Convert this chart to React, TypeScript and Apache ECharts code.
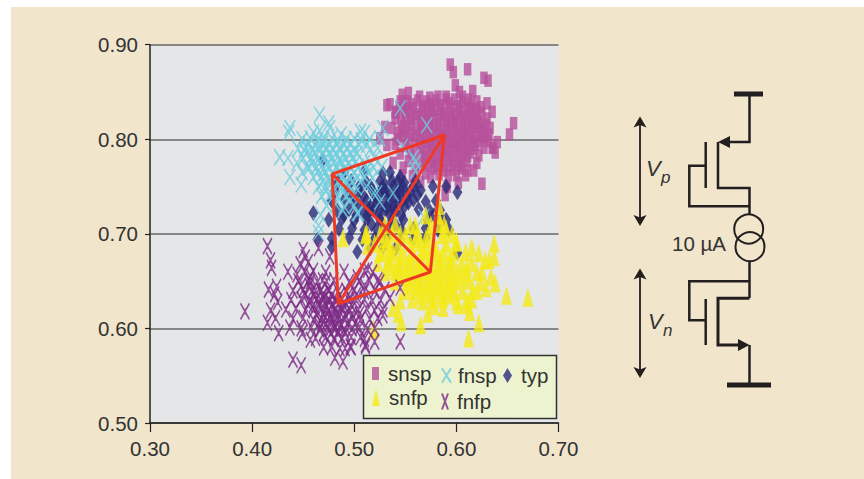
import React, { useEffect, useRef } from "react";
import * as echarts from "echarts";

const xTicks = { min: 0.3, max: 0.7, interval: 0.1 };
const yTicks = { min: 0.5, max: 0.9, interval: 0.1 };

const snsp: number[][] = [
[.594,.879],[.597,.871],[.611,.874],[.627,.865],[.631,.862],[.616,.851],[.599,.857],[.603,.85],[.635,.829],[.535,.837],[.547,.847],[.553,.849],[.564,.845],[.574,.844],[.582,.845],[.59,.845],[.656,.817],[.652,.805],[.636,.791],
[.625,.753],[.617,.767],[.609,.762],[.602,.754],[.591,.75],[.589,.741],[.575,.76],[.565,.755],[.547,.762],[.532,.836],[.54,.829],[.53,.813],[.525,.801],[.543,.807],[.532,.794],[.633,.812],[.635,.791],[.627,.791],[.622,.783],[.625,.828],[.617,.828],[.538,.725],[.537,.812],[.54,.795],[.545,.785],[.538,.775],
[.548,.836],[.556,.837],[.567,.835],[.575,.837],[.584,.836],[.593,.838],[.601,.835],
[.541,.828],[.553,.829],[.562,.827],[.572,.828],[.579,.83],[.588,.828],[.596,.827],[.604,.829],[.612,.828],
[.546,.82],[.556,.821],[.566,.819],[.574,.82],[.583,.821],[.59,.82],[.599,.819],[.607,.821],[.615,.82],[.622,.819],
[.551,.812],[.562,.811],[.57,.813],[.578,.812],[.586,.811],[.594,.813],[.602,.812],[.61,.811],[.618,.813],[.626,.81],
[.549,.803],[.559,.804],[.568,.802],[.576,.803],[.585,.804],[.592,.802],[.6,.803],[.608,.804],[.616,.802],[.624,.803],
[.56,.795],[.571,.796],[.579,.794],[.587,.795],[.595,.796],[.603,.794],[.611,.795],[.619,.794],
[.565,.786],[.574,.787],[.582,.785],[.59,.786],[.598,.787],[.606,.785],[.614,.786],
[.553,.777],[.569,.778],[.577,.776],[.585,.777],[.593,.778],[.601,.776],[.61,.777],
[.56,.768],[.578,.769],[.588,.767],[.596,.768],[.604,.769],[.611,.767],
[.552,.84],[.562,.841],[.571,.84],[.58,.841],[.59,.842],[.598,.842],[.606,.84],[.614,.838],
[.544,.833],[.558,.833],[.567,.832],[.576,.833],[.585,.832],[.594,.833],[.603,.832],[.611,.833],[.619,.832],
[.55,.825],[.56,.824],[.569,.825],[.578,.824],[.587,.825],[.595,.824],[.603,.825],[.611,.824],[.62,.825],
[.555,.816],[.565,.816],[.574,.816],[.582,.816],[.591,.816],[.599,.816],[.607,.816],[.615,.816],[.623,.815],
[.546,.808],[.556,.807],[.566,.808],[.574,.808],[.582,.807],[.59,.808],[.598,.808],[.606,.807],[.614,.808],[.622,.807],
[.553,.799],[.564,.799],[.574,.799],[.583,.799],[.591,.799],[.599,.799],[.607,.799],[.615,.799],[.623,.798],
[.567,.79],[.576,.791],[.585,.79],[.593,.791],[.601,.79],[.609,.79],[.617,.79],
[.57,.782],[.579,.781],[.587,.782],[.595,.782],[.603,.781],[.611,.782],[.558,.782],
[.565,.773],[.573,.772],[.581,.772],[.589,.772],[.597,.773],[.605,.772],
[.57,.764],[.583,.763],[.592,.762],[.6,.762],
[.63,.822],[.632,.805],[.629,.815],[.631,.798],[.628,.803],[.64,.797],[.638,.786],[.62,.775],
[.545,.84],[.55,.832],[.54,.822],[.548,.814],[.542,.8],[.55,.793],[.555,.787],[.548,.77],[.557,.761],
[.606,.845],[.612,.842],[.62,.84],[.63,.838],[.624,.834],
];

const typ: number[][] = [
[.469,.778],[.46,.722],[.464,.694],[.478,.686],[.503,.681],[.593,.704],[.584,.711],[.601,.68],[.601,.744],[.577,.75],[.59,.75],
[.49,.765],[.51,.766],[.528,.764],
[.484,.755],[.497,.756],[.512,.754],[.525,.755],[.537,.756],[.549,.754],[.56,.755],
[.481,.745],[.494,.746],[.505,.744],[.518,.745],[.53,.746],[.542,.744],[.555,.745],[.565,.746],
[.478,.735],[.49,.736],[.5,.734],[.512,.735],[.523,.736],[.535,.734],[.547,.735],[.558,.736],[.57,.734],[.58,.735],
[.483,.725],[.495,.726],[.508,.724],[.519,.725],[.53,.726],[.54,.724],[.563,.726],[.574,.724],[.584,.725],
[.475,.715],[.488,.716],[.5,.714],[.512,.715],[.525,.716],[.537,.714],[.548,.715],[.572,.714],[.586,.716],
[.485,.705],[.498,.706],[.51,.704],[.522,.705],[.534,.706],[.546,.704],[.558,.705],[.57,.706],[.582,.704],
[.478,.695],[.495,.696],[.508,.694],[.52,.695],[.532,.696],[.545,.694],[.558,.695],[.57,.696],
[.516,.685],[.528,.686],[.54,.684],
[.505,.75],[.516,.75],[.527,.749],[.538,.75],[.548,.749],[.558,.75],
[.498,.74],[.509,.74],[.52,.741],[.531,.74],[.541,.74],[.552,.74],[.562,.741],
[.505,.73],[.516,.729],[.527,.73],[.538,.73],[.549,.729],
[.49,.72],[.502,.72],[.513,.72],[.524,.72],[.535,.72],[.546,.72],[.578,.72],
[.517,.71],[.528,.71],[.54,.71],[.59,.715],
[.525,.742],[.535,.742],[.545,.745],[.522,.733],[.532,.727],[.543,.733],[.553,.733],[.53,.752],[.543,.755],[.515,.725],[.545,.76],[.535,.765],
];

const fnsp: number[][] = [
[.466,.826],[.475,.817],[.476,.812],[.436,.807],[.437,.812],[.46,.807],[.466,.809],[.487,.805],[.506,.808],[.51,.807],[.528,.812],[.427,.781],[.435,.78],[.437,.76],[.448,.752],[.454,.77],[.451,.789],
[.465,.709],[.465,.701],[.489,.725],[.504,.722],[.568,.718],[.522,.743],[.538,.743],[.525,.734],[.56,.776],[.503,.722],[.467,.72],[.545,.833],[.571,.815],[.525,.801],[.547,.792],[.558,.781],[.56,.767],[.519,.743],
[.449,.8],[.457,.801],[.464,.799],[.47,.8],[.478,.801],[.484,.799],[.492,.8],[.5,.801],[.507,.799],[.515,.8],
[.445,.79],[.453,.791],[.46,.789],[.467,.79],[.473,.791],[.48,.789],[.487,.79],[.493,.791],[.5,.789],[.516,.79],[.523,.791],
[.45,.78],[.458,.781],[.465,.779],[.472,.78],[.479,.781],[.486,.779],[.492,.78],[.499,.781],[.52,.78],
[.456,.77],[.463,.771],[.47,.769],[.476,.77],[.483,.771],[.49,.769],[.497,.77],[.504,.771],[.512,.769],[.519,.77],[.527,.771],
[.46,.76],[.468,.761],[.475,.759],[.482,.76],[.489,.761],[.496,.759],[.503,.76],[.51,.761],[.518,.759],
[.465,.75],[.472,.751],[.48,.749],[.488,.75],[.495,.751],[.502,.749],[.512,.75],
[.468,.74],[.476,.741],[.484,.739],[.492,.74],[.5,.741],
[.473,.73],[.482,.731],[.49,.729],[.5,.73],
[.455,.795],[.462,.794],[.469,.795],[.476,.794],[.483,.795],[.49,.794],[.497,.795],[.505,.794],[.512,.794],
[.453,.785],[.461,.785],[.468,.784],[.475,.785],[.482,.785],[.489,.784],[.496,.785],[.503,.785],[.51,.775],
[.459,.775],[.466,.775],[.473,.774],[.48,.775],[.487,.775],[.494,.774],[.501,.775],[.516,.775],
[.464,.765],[.471,.765],[.478,.764],[.485,.765],[.492,.765],[.5,.764],[.507,.765],[.514,.765],
[.469,.755],[.476,.755],[.484,.755],[.491,.754],[.498,.755],[.506,.755],
[.472,.745],[.48,.745],[.488,.745],[.496,.744],[.444,.775],[.449,.765],
];

const snfp: number[][] = [
[.67,.633],[.649,.635],[.637,.69],[.637,.676],[.629,.643],[.638,.648],[.628,.672],[.632,.673],[.622,.68],[.615,.686],[.609,.681],[.6,.692],[.62,.66],[.612,.59],[.622,.606],[.613,.618],[.565,.604],[.572,.616],[.546,.607],[.543,.616],[.538,.622],[.587,.622],[.578,.624],[.602,.625],[.611,.625],[.519,.599],[.584,.711],[.512,.701],[.513,.688],[.489,.696],[.511,.699],
[.582,.72],
[.53,.71],[.54,.711],[.56,.709],[.575,.71],[.588,.711],
[.525,.7],[.537,.701],[.55,.699],[.562,.7],[.574,.701],[.586,.699],
[.52,.69],[.532,.691],[.543,.689],[.555,.69],[.565,.691],[.577,.689],[.59,.69],[.6,.691],
[.528,.68],[.538,.681],[.548,.679],[.558,.68],[.568,.681],[.578,.679],[.588,.68],[.598,.681],
[.523,.67],[.533,.671],[.543,.669],[.553,.67],[.563,.671],[.573,.669],[.583,.67],[.593,.671],[.605,.669],[.615,.67],
[.53,.66],[.54,.661],[.55,.659],[.56,.66],[.57,.661],[.58,.659],[.59,.66],[.6,.661],[.61,.659],
[.54,.65],[.552,.651],[.562,.649],[.572,.65],[.582,.651],[.592,.649],[.6,.65],[.612,.651],[.624,.649],
[.55,.64],[.56,.641],[.57,.639],[.58,.64],[.59,.641],[.598,.639],[.606,.64],[.616,.641],
[.545,.63],[.557,.631],[.567,.629],[.577,.63],[.587,.631],[.6,.629],[.61,.63],[.615,.631],
[.535,.675],[.545,.675],[.555,.675],[.565,.675],[.575,.675],[.585,.675],[.595,.675],
[.535,.665],[.545,.665],[.555,.665],[.565,.665],[.575,.665],[.585,.665],[.595,.665],
[.545,.655],[.556,.655],[.566,.655],[.576,.655],[.586,.655],[.596,.655],
[.555,.645],[.565,.645],[.575,.645],[.585,.645],[.595,.645],
[.565,.635],[.575,.635],[.585,.635],[.593,.635],
[.57,.685],[.58,.685],[.56,.695],[.57,.695],
[.583,.73],[.57,.72],[.59,.705],[.596,.7],[.61,.665],[.625,.66],[.634,.655],[.605,.655],[.62,.64],[.53,.695],[.545,.7],[.555,.71],[.535,.685],[.525,.68],
];

const fnfp: number[][] = [
[.393,.618],[.415,.687],[.418,.672],[.419,.664],[.45,.683],[.465,.685],[.435,.66],[.416,.641],[.424,.644],[.422,.636],[.425,.628],[.418,.619],[.415,.606],[.423,.611],[.426,.595],[.44,.567],[.448,.561],[.489,.565],[.481,.569],[.545,.586],[.52,.586],[.511,.583],[.496,.581],[.491,.579],[.545,.643],[.535,.632],[.528,.614],[.457,.588],[.437,.601],[.449,.595],[.506,.591],[.476,.676],[.455,.67],[.469,.651],[.444,.657],[.503,.654],[.513,.662],[.523,.651],
[.452,.66],[.46,.661],[.472,.659],[.49,.66],[.51,.661],[.518,.659],
[.445,.65],[.455,.651],[.464,.649],[.473,.65],[.48,.651],[.495,.649],[.505,.65],[.515,.651],[.525,.649],
[.44,.64],[.45,.641],[.458,.639],[.467,.64],[.475,.641],[.484,.639],[.492,.64],[.5,.641],[.51,.639],[.52,.64],[.53,.641],
[.438,.63],[.448,.631],[.456,.629],[.463,.63],[.47,.631],[.476,.629],[.482,.63],[.488,.631],[.495,.629],[.502,.63],[.51,.631],[.518,.629],[.526,.63],
[.455,.625],[.465,.626],[.472,.624],[.478,.625],[.484,.626],[.49,.624],[.497,.625],
[.433,.62],[.443,.621],[.452,.619],[.46,.62],[.468,.621],[.475,.619],[.482,.62],[.489,.621],[.496,.619],[.504,.62],[.512,.621],[.52,.619],[.528,.62],
[.44,.61],[.45,.611],[.46,.609],[.468,.61],[.476,.611],[.484,.609],[.49,.61],[.498,.611],[.506,.609],[.515,.61],[.523,.611],
[.448,.6],[.458,.601],[.466,.599],[.475,.6],[.482,.601],[.49,.599],[.498,.6],[.505,.601],[.513,.599],[.52,.6],
[.462,.59],[.472,.591],[.48,.589],[.488,.59],[.497,.591],[.51,.589],
[.47,.58],[.478,.581],[.486,.579],[.497,.58],[.511,.581],
[.448,.645],[.456,.645],[.462,.635],[.47,.636],[.478,.635],[.486,.635],[.494,.635],[.502,.635],[.51,.645],
[.463,.615],[.47,.615],[.477,.615],[.484,.615],[.491,.615],[.498,.615],[.505,.615],[.465,.605],[.472,.605],[.48,.605],[.487,.605],[.494,.605],[.501,.605],
[.47,.595],[.477,.595],[.484,.595],[.491,.595],[.457,.655],[.447,.668],[.452,.675],
[.466,.625],[.471,.62],[.474,.63],[.48,.624],[.483,.617],[.487,.622],[.478,.61],[.472,.612],[.469,.635],[.475,.64],[.462,.64],[.457,.65],[.452,.635],[.46,.625],[.468,.605],[.48,.6],[.486,.6],
];

const redA = [.4784,.7633];
const redB = [.5882,.8045];
const redC = [.5745,.6597];
const redD = [.4843,.6259];
const redPath1 = [redA, redB, redC, redD, redA, redC];
const redPath2 = [redB, redD];

const FONT = '"Liberation Sans", Arial, sans-serif';
const TEXT = "#333333";
const X_PATH = "path://M0 0L10 16M10 0L0 16";
const ASTER_PATH = "path://M2 0L8 16M8 0L2 16M5 5L5 11";
const INK = "#231f20";

const l = (x1: number, y1: number, x2: number, y2: number, w = 2) => ({
  type: "line", silent: true, z: 5,
  shape: { x1, y1, x2, y2 },
  style: { stroke: INK, lineWidth: w },
});
const pl = (points: number[][], w = 2) => ({
  type: "polyline", silent: true, z: 5,
  shape: { points },
  style: { stroke: INK, lineWidth: w, fill: "none" },
});
const pg = (points: number[][]) => ({
  type: "polygon", silent: true, z: 5,
  shape: { points },
  style: { fill: INK },
});
const c = (cx: number, cy: number, r: number) => ({
  type: "circle", silent: true, z: 5,
  shape: { cx, cy, r },
  style: { stroke: INK, lineWidth: 2, fill: "none" },
});
const t = (text: string, x: number, y: number, fontSize: number, italic = false) => ({
  type: "text", silent: true, z: 5,
  style: { text, x, y, fontSize, fontFamily: FONT, fontStyle: italic ? "italic" : "normal", fill: TEXT, textVerticalAlign: "middle" },
});

const circuit = [
  l(734, 94, 763, 94, 5),
  pl([[749.5, 94], [749.5, 142], [726, 142]], 2.5),
  pg([[718, 142], [730, 136], [730, 148]]),
  pl([[718, 142], [718, 188], [749.5, 188], [749.5, 215]], 2.5),
  l(705.7, 142, 705.7, 188, 2.5),
  pl([[705.7, 165.7], [689.3, 165.7], [689.3, 206.3], [749.5, 206.3]], 2.5),
  c(748.7, 229, 14.5),
  c(750, 246.7, 14.5),
  l(749.5, 261.5, 749.5, 298, 2.5),
  pl([[749.5, 281.3], [689.3, 281.3], [689.3, 320.3], [705.7, 320.3]], 2.5),
  l(705.7, 299, 705.7, 345, 2.5),
  pl([[749.5, 298.3], [718, 298.3], [718, 345], [740, 345]], 3),
  pg([[749.5, 345], [738, 339], [738, 351]]),
  l(749.5, 345, 749.5, 385, 2.5),
  l(727, 385, 771, 385, 5),
  l(640, 122, 640, 220, 1.8),
  pg([[640, 116.5], [646.5, 127.5], [640, 125], [633.5, 127.5]]),
  pg([[640, 226], [646.5, 215], [640, 217.5], [633.5, 215]]),
  l(640, 274, 640, 372, 1.8),
  pg([[640, 268.5], [646.5, 279.5], [640, 277], [633.5, 279.5]]),
  pg([[640, 378], [646.5, 367], [640, 369.5], [633.5, 367]]),
  t("10 µA", 672, 243, 20.5),
  t("V", 646, 168, 22, true),
  t("p", 661, 177, 17, true),
  t("V", 648, 321, 22, true),
  t("n", 663, 330, 17, true),
];

const legendBox = {
  type: "rect", silent: true, z: 3,
  shape: { x: 363.5, y: 355.5, width: 193, height: 63 },
  style: { fill: "#edf3cf", stroke: "#333333", lineWidth: 1.5 },
};

const legendItem = (name: string, left: number, top: number, w: number, h: number, icon: string, pad = 4) => ({
  data: [name],
  left, top,
  padding: 0,
  selectedMode: false,
  itemWidth: w,
  itemHeight: h,
  icon,
  textStyle: { color: TEXT, fontSize: 20.5, fontFamily: FONT, padding: [0, 0, 0, pad] },
});

export default function App() {
  const ref = useRef<HTMLDivElement>(null);
  useEffect(() => {
    const chart = echarts.init(ref.current!, undefined, { renderer: "svg" });
    const scatter = (name: string, data: number[][], symbol: string, symbolSize: number[], itemStyle: any) => ({
      name, type: "scatter", data, symbol, symbolSize, itemStyle, silent: true, z: 2,
    });
    const lineStyle = { color: "#ee3a24", width: 3 };
    chart.setOption({
      animation: false,
      grid: {
        show: true, left: 150, right: 305.5, top: 44.7, bottom: 56,
        backgroundColor: "#e4e6e8", borderWidth: 0,
      },
      xAxis: {
        type: "value", ...xTicks,
        axisLine: { show: true, lineStyle: { color: "#222", width: 1.5 } },
        axisTick: { show: true, length: 9, lineStyle: { color: "#222", width: 1.2 } },
        axisLabel: { color: TEXT, fontSize: 20.5, fontFamily: FONT, margin: 15, formatter: (v: number) => v.toFixed(2) },
        splitLine: { show: false },
      },
      yAxis: {
        type: "value", ...yTicks,
        axisLine: { show: true, lineStyle: { color: "#222", width: 1.5 } },
        axisTick: { show: true, length: 5, lineStyle: { color: "#222", width: 1.2 } },
        axisLabel: { color: TEXT, fontSize: 20.5, fontFamily: FONT, margin: 12, formatter: (v: number) => v.toFixed(2) },
        splitLine: { show: true, lineStyle: { color: "#666", width: 1.5 } },
      },
      legend: [
        legendItem("snsp", 372, 363, 7, 13, "rect"),
        legendItem("fnsp", 441, 365, 9, 15, X_PATH, 2),
        legendItem("typ", 503, 365, 9, 15, "diamond"),
        legendItem("snfp", 372, 387, 8, 17, "triangle"),
        legendItem("fnfp", 441, 391, 8, 16, ASTER_PATH, 3),
      ],
      graphic: [legendBox, ...circuit],
      series: [
        scatter("snsp", snsp, "rect", [7.5, 12.5], { color: "#b7509b" }),
        scatter("typ", typ, "diamond", [10, 16], { color: "#292a78" }),
        scatter("fnsp", fnsp, X_PATH, [11, 16], { color: "transparent", borderColor: "#6dcede", borderWidth: 1.6 }),
        scatter("snfp", snfp, "triangle", [11, 19], { color: "#f4ea18" }),
        scatter("fnfp", fnfp, ASTER_PATH, [9, 16], { color: "transparent", borderColor: "#7d2a86", borderWidth: 1.7 }),
        { type: "line", data: redPath1, symbol: "none", silent: true, z: 3, lineStyle },
        { type: "line", data: redPath2, symbol: "none", silent: true, z: 3, lineStyle },
      ],
    });
    return () => chart.dispose();
  }, []);
  return (
    <div style={{ position: "fixed", left: 0, top: 0, width: 864, height: 479, background: "#fff", overflow: "hidden" }}>
      <div style={{ position: "absolute", left: 11, top: 7, width: 853, height: 472, background: "#f1e5cc" }} />
      <div ref={ref} style={{ position: "absolute", left: 0, top: 0, width: 864, height: 479 }} />
    </div>
  );
}
